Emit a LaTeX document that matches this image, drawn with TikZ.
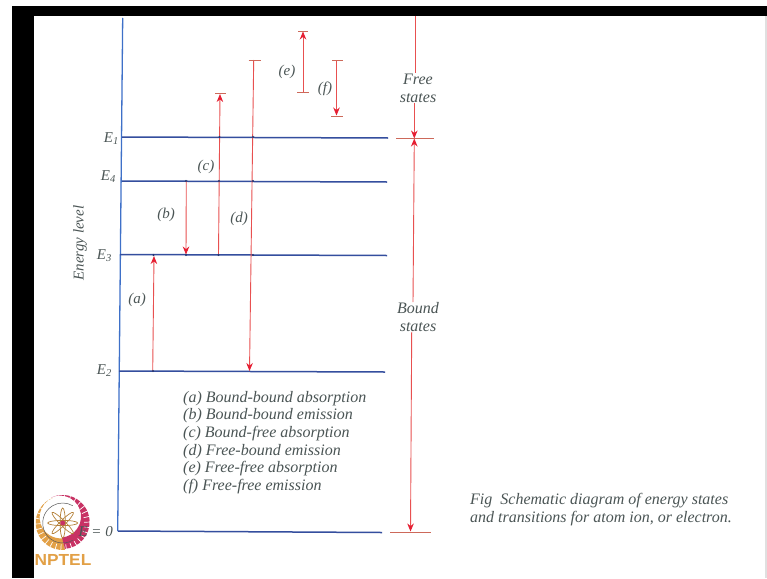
\documentclass[tikz,border=0pt]{standalone}
\usepackage{fontspec}
\setmainfont{Liberation Serif}
\setsansfont{Liberation Sans}
\usepackage{xcolor}
\definecolor{levelblue}{RGB}{52,78,158}
\definecolor{axisblue}{RGB}{62,112,200}
\definecolor{transred}{RGB}{232,80,80}
\definecolor{tipred}{RGB}{230,30,50}
\definecolor{tickred}{RGB}{205,105,90}
\definecolor{textgray}{RGB}{75,85,85}
\definecolor{logoorange}{RGB}{226,160,70}
\definecolor{logored}{RGB}{200,50,100}
\usetikzlibrary{arrows.meta}
\tikzset{
    level/.style={line width=1.5pt,levelblue},
    trans/.style={line width=0.9pt,transred,-{Stealth[length=8pt,width=6.5pt,color=tipred]}},
    plain/.style={line width=0.9pt,transred},
    endtick/.style={line width=0.9pt,tickred},
    lab/.style={font=\fontsize{15}{15}\selectfont\itshape,textgray,inner sep=0pt},
    elab/.style={lab,anchor=east},
    sidelab/.style={lab,align=center,font=\fontsize{16}{18}\selectfont\itshape},
    listlab/.style={font=\fontsize{16}{16}\selectfont\itshape,textgray,inner sep=0pt,anchor=west},
}
\begin{document}
\begin{tikzpicture}[x=1pt,y=-1pt]
    % frame
        \fill[white](0,0) rectangle (767,578);
        \fill[black](12,6) rectangle (767,16);
        \fill[black](12,6) rectangle (34,578);
        \fill[black!12](765,16) rectangle (767,578);
        \useasboundingbox (0,0) rectangle (767,578);
    % axis
        \coordinate (axistop) at (122.7,18);
        \coordinate (axisbot) at (117.7,531);
        \draw[line width=1.3pt,axisblue](axistop)--(axisbot);
    % levels
        \coordinate (e1l) at (122,137);   \coordinate (e1r) at (388,138);
        \coordinate (e4l) at (122,181);   \coordinate (e4r) at (387,182);
        \coordinate (e3l) at (120,254.5); \coordinate (e3r) at (387,255.5);
        \coordinate (e2l) at (119,371);   \coordinate (e2r) at (385,372);
        \coordinate (e0l) at (118,531);   \coordinate (e0r) at (382,532.5);
        \draw[level](e1l)--(e1r);
        \draw[level](e4l)--(e4r);
        \draw[level](e3l)--(e3r);
        \draw[level](e2l)--(e2r);
        \draw[level](e0l)--(e0r);

        \node[elab] (labe1) at (119,138.5){E\textsubscript{1}};
        \node[elab] (labe4) at (116,176.5){E\textsubscript{4}};
        \node[elab] (labe3) at (112,255.5){E\textsubscript{3}};
        \node[elab] (labe2) at (112,370.5){E\textsubscript{2}};
        \node[lab,rotate=90] (ylab) at (80,243){Energy level};
    % (a)
        \coordinate (a1) at (152.7,371);
        \coordinate (a2) at (154,256);
        \draw[trans](a1)--(a2);
        \node[lab] (laba) at (137,300){(a)};
    % (b)
        \coordinate (b1) at (186.3,181);
        \coordinate (b2) at (186,254.5);
        \draw[trans](b1)--(b2);
        \node[lab] (labb) at (166,215){(b)};
    % (c)
        \coordinate (c1) at (218.5,254.5);
        \coordinate (c2) at (220,94);
        \draw[trans](c1)--(c2);
        \draw[endtick](215,93.5)--(226,93.5);
        \node[lab] (labc) at (206,167){(c)};
    % (d)
        \coordinate (d1) at (253.7,60);
        \coordinate (d2) at (249.5,371);
        \draw[trans](d1)--(d2);
        \draw[endtick](248.5,60)--(261,60);
        \node[lab] (labd) at (239,219){(d)};
    % (e)
        \coordinate (f1) at (303,92);
        \coordinate (f2) at (303,31.5);
        \draw[trans](f1)--(f2);
        \draw[endtick](297,92)--(309,92);
        \draw[endtick](298,31)--(308,31);
        \node[lab] (labf) at (287,71.5){(e)};
    % (f)
        \coordinate (g1) at (336.5,60);
        \coordinate (g2) at (336.5,115.5);
        \draw[trans](g1)--(g2);
        \draw[endtick](332,60)--(343,60);
        \draw[endtick](331,116)--(343,116);
        \node[lab] (labg) at (325,89){(f)};
    % crossings
        \foreach \px/\py in {219.5/137,253/137,219/181,253/181,186/181,218.5/255,253/255,186/255,153.5/255,153/371}{
            \fill[levelblue!70!black](\px,\py) circle (1.2);
        }
    % free and bound
        \node[sidelab] (free) at (418,88){Free\\states};
        \node[sidelab] (bound) at (418,317){Bound\\states};
        \coordinate (freetop) at (415.3,16);
        \coordinate (split) at (414.3,138.5);
        \coordinate (groundpt) at (410.5,531.5);
        \draw[plain](freetop)--(free.north -| freetop);
        \draw[trans](free.south -| split)--(split);
        \draw[trans](bound.north -| 413,0)--(split);
        \draw[trans](bound.south -| 411.7,0)--(groundpt);
        \draw[endtick](396,138.5)--(434,138.5);
        \draw[endtick](390,532)--(431,532);
    % list
        \node[listlab] (lista) at (183,398.5){(a) Bound-bound absorption};
        \node[listlab] (listb) at (183,416){(b) Bound-bound emission};
        \node[listlab] (listc) at (183,434){(c) Bound-free absorption};
        \node[listlab] (listd) at (183,451.5){(d) Free-bound emission};
        \node[listlab] (liste) at (183,469){(e) Free-free absorption};
        \node[listlab] (listf) at (183,486.5){(f) Free-free emission};
    % caption
        \node[listlab] (capa) at (470,501){Fig\ \ Schematic diagram of energy states};
        \node[listlab] (capb) at (470,518.5){and transitions for atom ion, or electron.};
    % logo
        \fill[logoorange](62.7,523) ++(85:27) arc (85:250:27) arc (250:85:21) -- cycle;
        \fill[logored](62.7,523) ++(85:26) arc (85:-115:27) arc (-115:85:21) -- cycle;
        \foreach \ang in {-110,-98,...,240}{
            \draw[white,line width=0.7pt](62.7,523) ++(\ang:21.5) -- ++(\ang:6.5);
        }
        \draw[black!65,line width=0.5pt](62.7,523) ++(60:20) arc (60:300:20);
        \foreach \ang in {0,45,...,135}{
            \draw[logoorange!80!black,line width=0.7pt,rotate around={\ang:(62.7,523)}](62.7,523) ellipse (15 and 2.6);
        }
        \fill[logored](62.7,523) circle (2.5);
        \node[font=\sffamily\bfseries\fontsize{16}{16}\selectfont,logoorange,inner sep=0pt,xscale=1.08] (nptel) at (63,560){NPTEL};
        \node[elab] (labe0) at (113,531.5){E = 0};
\end{tikzpicture}
\end{document}
